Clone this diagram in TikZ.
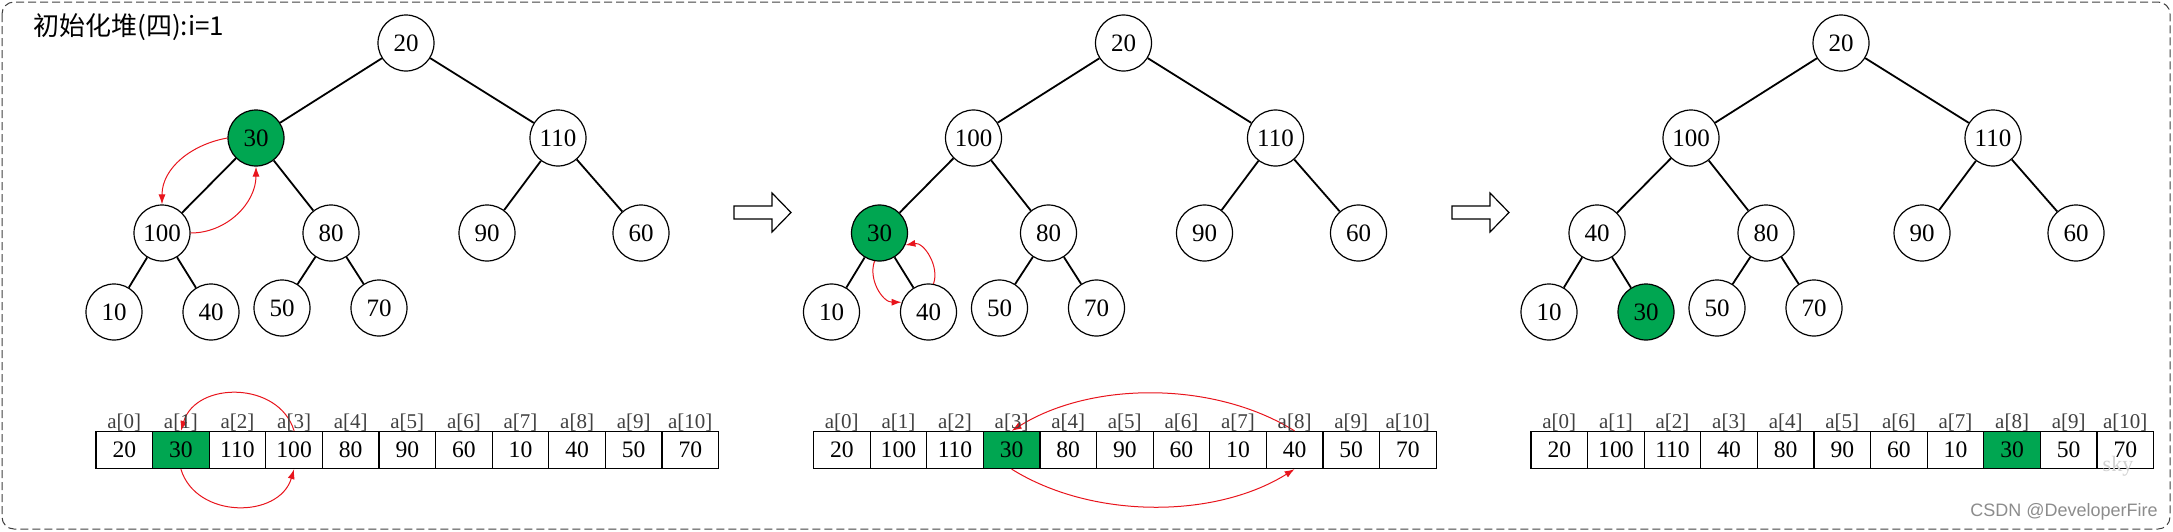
\documentclass[tikz,border=0pt]{standalone}
\usepackage{fontspec}
\setmainfont{Liberation Serif}
\newfontfamily\cjkfont{Noto Sans CJK SC}
\newfontfamily\markfont{Liberation Sans}
\usetikzlibrary{positioning,arrows.meta}
\definecolor{heapgreen}{HTML}{00A651}
\definecolor{swapred}{HTML}{E8141C}

\begin{document}
\begin{tikzpicture}[
        x=0.5pt, y=-0.5pt,
        key/.style={
            draw,
            circle,
            minimum size=28pt,
            inner sep=0pt,
            line width=0.6pt,
            font=\fontsize{12.5}{14}\selectfont
        },
        hot/.style={fill=heapgreen},
        plain/.style={},
        edge/.style={line width=0.9pt},
        cell/.style={
            draw,
            minimum width=28.3pt,
            minimum height=18.5pt,
            inner sep=0pt,
            line width=0.6pt,
            font=\fontsize{11.8}{13}\selectfont
        },
        idx/.style={
            inner sep=1pt,
            text=black!75,
            font=\fontsize{10.5}{12}\selectfont
        },
        swap/.style={
            -{Latex[length=5pt,width=3.5pt]},
            swapred,
            line width=0.5pt
        },
        next/.style={
            draw,
            fill=white,
            line width=0.6pt
        }
    ]

    \useasboundingbox (0,0) rectangle (2173,531);
    \draw[black!75, line width=0.5pt, dash pattern=on 4pt off 2pt, rounded corners=6pt]
        (2,2) rectangle (2170,529);

    \node[anchor=west, inner sep=0pt, font=\cjkfont\fontsize{13}{15}\selectfont] (title) at (33,27) {初始化堆(四):i=1};

    % Panel 1: sift 30 down at i=1
    \node[key] (t1-0) at (406,43) {20};
    \node[key, hot] (t1-1) at (256,138) {30};
    \node[key] (t1-2) at (558,138) {110};
    \node[key] (t1-3) at (162,233) {100};
    \node[key] (t1-4) at (331,233) {80};
    \node[key] (t1-5) at (487,233) {90};
    \node[key] (t1-6) at (641,233) {60};
    \node[key] (t1-7) at (114,312) {10};
    \node[key] (t1-8) at (211,312) {40};
    \node[key] (t1-9) at (282,308) {50};
    \node[key] (t1-10) at (379,308) {70};

    \foreach \v/\s [count=\i from 0] in {20/plain,30/hot,110/plain,100/plain,80/plain,90/plain,60/plain,10/plain,40/plain,50/plain,70/plain}
        \node[cell, \s] (c1-\i) at ({124.3+56.6*\i},450) {\v};

    \draw[swap] (t1-1.west) to[out=190, in=90] (t1-3.north);
    \draw[swap] (t1-3.east) to[out=0, in=270] (t1-1.south);
    \draw[swap] (c1-3.north) .. controls +(-15,-50) and +(15,-50) .. (c1-1.north);
    \draw[swap] (c1-1.south) .. controls +(15,50) and +(-15,50) .. (c1-3.south);

    \coordinate (go1) at (734,212.5);
    \draw[next] (go1) ++(0,-6.5) -- ++(38,0) -- ++(0,-13) -- ++(19,19.5)
        -- ++(-19,19.5) -- ++(0,-13) -- ++(-38,0) -- cycle;

    % Panel 2: 30 goes on down to a[3]
    \begin{scope}[shift={(717.5,0)}]
    \node[key] (t2-0) at (406,43) {20};
    \node[key] (t2-1) at (256,138) {100};
    \node[key] (t2-2) at (558,138) {110};
    \node[key, hot] (t2-3) at (162,233) {30};
    \node[key] (t2-4) at (331,233) {80};
    \node[key] (t2-5) at (487,233) {90};
    \node[key] (t2-6) at (641,233) {60};
    \node[key] (t2-7) at (114,312) {10};
    \node[key] (t2-8) at (211,312) {40};
    \node[key] (t2-9) at (282,308) {50};
    \node[key] (t2-10) at (379,308) {70};

    \foreach \v/\s [count=\i from 0] in {20/plain,100/plain,110/plain,30/hot,80/plain,90/plain,60/plain,10/plain,40/plain,50/plain,70/plain}
        \node[cell, \s] (c2-\i) at ({124.3+56.6*\i},450) {\v};
    \end{scope}

    \draw[swap] (t2-3.-100) to[out=250, in=180] (t2-8.160);
    \draw[swap] (t2-8.80) to[out=70, in=10] (t2-3.-25);
    \draw[swap] (c2-8.north) .. controls +(-80,-50) and +(80,-50) .. (c2-3.north);
    \draw[swap] (c2-3.south) .. controls +(80,50) and +(-80,50) .. (c2-8.south);

    \coordinate (go2) at (1452,212.5);
    \draw[next] (go2) ++(0,-6.5) -- ++(38,0) -- ++(0,-13) -- ++(19,19.5)
        -- ++(-19,19.5) -- ++(0,-13) -- ++(-38,0) -- cycle;

    % Panel 3: heap after i=1
    \begin{scope}[shift={(1435,0)}]
    \node[key] (t3-0) at (406,43) {20};
    \node[key] (t3-1) at (256,138) {100};
    \node[key] (t3-2) at (558,138) {110};
    \node[key] (t3-3) at (162,233) {40};
    \node[key] (t3-4) at (331,233) {80};
    \node[key] (t3-5) at (487,233) {90};
    \node[key] (t3-6) at (641,233) {60};
    \node[key] (t3-7) at (114,312) {10};
    \node[key, hot] (t3-8) at (211,312) {30};
    \node[key] (t3-9) at (282,308) {50};
    \node[key] (t3-10) at (379,308) {70};

    \foreach \v/\s [count=\i from 0] in {20/plain,100/plain,110/plain,40/plain,80/plain,90/plain,60/plain,10/plain,30/hot,50/plain,70/plain}
        \node[cell, \s] (c3-\i) at ({124.3+56.6*\i},450) {\v};
    \end{scope}

    \foreach \t in {1,2,3} {
        \foreach \u/\w in {0/1,0/2,1/3,1/4,2/5,2/6,3/7,3/8,4/9,4/10}
            \draw[edge] (t\t-\u) -- (t\t-\w);
        \foreach \i in {0,...,10}
            \node[idx, above=-1.5pt of c\t-\i] (l\t-\i) {a[\i]};
    }

    \node[anchor=center, text=black!18, font=\fontsize{11}{12}\selectfont] (sky) at (2118,466) {sky};
    \node[anchor=east, inner sep=0pt, text=black!45, font=\markfont\fontsize{9}{10}\selectfont] (mark) at (2158,512) {CSDN @DeveloperFire};

\end{tikzpicture}
\end{document}
